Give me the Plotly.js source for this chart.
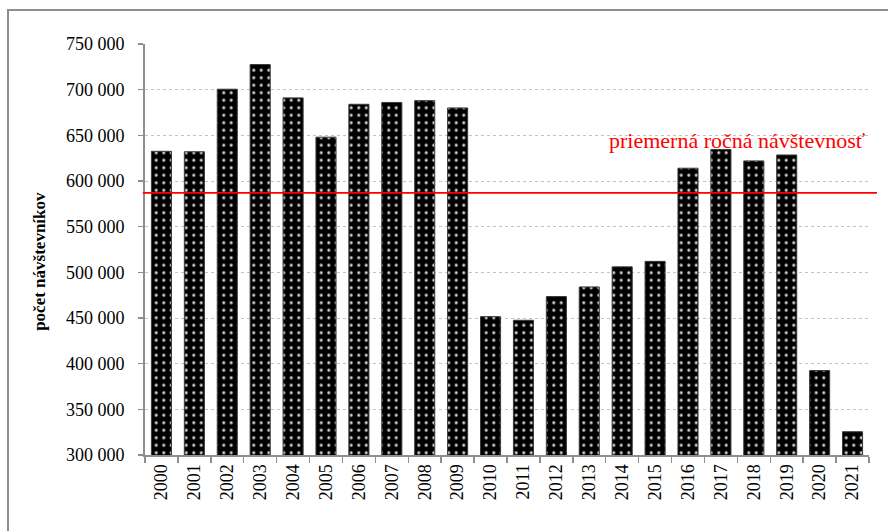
<!DOCTYPE html>
<html>
<head>
<meta charset="utf-8">
<script src="https://cdn.plot.ly/plotly-3.0.1.min.js"></script>
<style>
  html, body { margin: 0; padding: 0; background: #fff; overflow: hidden; }
  #wrap { position: relative; width: 888px; height: 531px; }
  #chart { position: absolute; left: 0; top: 0; width: 888px; height: 531px; }
  #frame { position: absolute; left: 7px; top: 9px; width: 950px; height: 600px;
           border-left: 2px solid #8e8e8e; border-top: 2px solid #8e8e8e; pointer-events: none; }
</style>
</head>
<body>
<div id="wrap">
  <div id="chart"></div>
  <div id="frame"></div>
</div>
<script>
const years = ['2000','2001','2002','2003','2004','2005','2006','2007','2008','2009','2010',
               '2011','2012','2013','2014','2015','2016','2017','2018','2019','2020','2021'];
const visitors = [632500, 632000, 700500, 727500, 691000, 648000, 684000, 686000, 688000, 680000, 451500,
                  447500, 473500, 484000, 506000, 512000, 614000, 634500, 622000, 628500, 392500, 325500];
const averageVisitors = 587000;
const averageLabel = 'priemerná ročná návštevnosť';
const yTitle = 'počet návštevníkov';

const serif = '"Liberation Serif", "Times New Roman", serif';

const trace = {
  type: 'bar',
  x: years,
  y: visitors,
  marker: {
    color: '#000000',
    line: { color: '#3a3a3a', width: 1 },
    pattern: { shape: '.', bgcolor: '#000000', fgcolor: '#d0d0d0', size: 7.5, solidity: 0.13, fillmode: 'replace' }
  },
  hoverinfo: 'x+y'
};

const layout = {
  width: 888,
  height: 531,
  margin: { l: 145, r: 19, t: 44, b: 76 },
  paper_bgcolor: '#ffffff',
  plot_bgcolor: '#ffffff',
  separators: ', ',
  showlegend: false,
  bargap: 0.39,
  font: { family: serif, size: 18, color: '#000' },
  xaxis: {
    type: 'category',
    tickangle: -90,
    ticks: 'outside',
    tickson: 'boundaries',
    ticklen: 6,
    tickcolor: '#8e8e8e',
    tickwidth: 1.5,
    showline: true,
    linecolor: '#8e8e8e',
    linewidth: 2,
    showgrid: false,
    tickfont: { family: serif, size: 18, color: '#000' }
  },
  yaxis: {
    range: [300000, 750000],
    dtick: 50000,
    tick0: 300000,
    tickformat: ',d',
    ticks: 'outside',
    ticklen: 5,
    tickcolor: '#8e8e8e',
    tickwidth: 1.5,
    showline: true,
    linecolor: '#8e8e8e',
    linewidth: 2,
    showgrid: true,
    gridcolor: '#c4c4c4',
    griddash: 'dot',
    gridwidth: 1,
    zeroline: false,
    ticklabelstandoff: 10,
    tickfont: { family: serif, size: 18, color: '#000' }
  },
  shapes: [{
    type: 'line',
    xref: 'paper', yref: 'y',
    x0: -0.003, x1: 1.011,
    y0: averageVisitors, y1: averageVisitors,
    line: { color: '#ff0000', width: 1.6 }
  }],
  annotations: [{
    text: averageLabel,
    xref: 'paper', yref: 'y',
    x: 0.999, y: 644000,
    xanchor: 'right', yanchor: 'middle',
    showarrow: false,
    font: { family: serif, size: 22, color: '#ff0000' }
  }, {
    text: '<b>' + yTitle + '</b>',
    xref: 'paper', yref: 'paper',
    x: -0.145, y: 0.47,
    xanchor: 'center', yanchor: 'middle',
    textangle: -90,
    showarrow: false,
    font: { family: serif, size: 17, color: '#000' }
  }]
};

Plotly.newPlot('chart', [trace], layout, { displayModeBar: false, staticPlot: true });
</script>
</body>
</html>
